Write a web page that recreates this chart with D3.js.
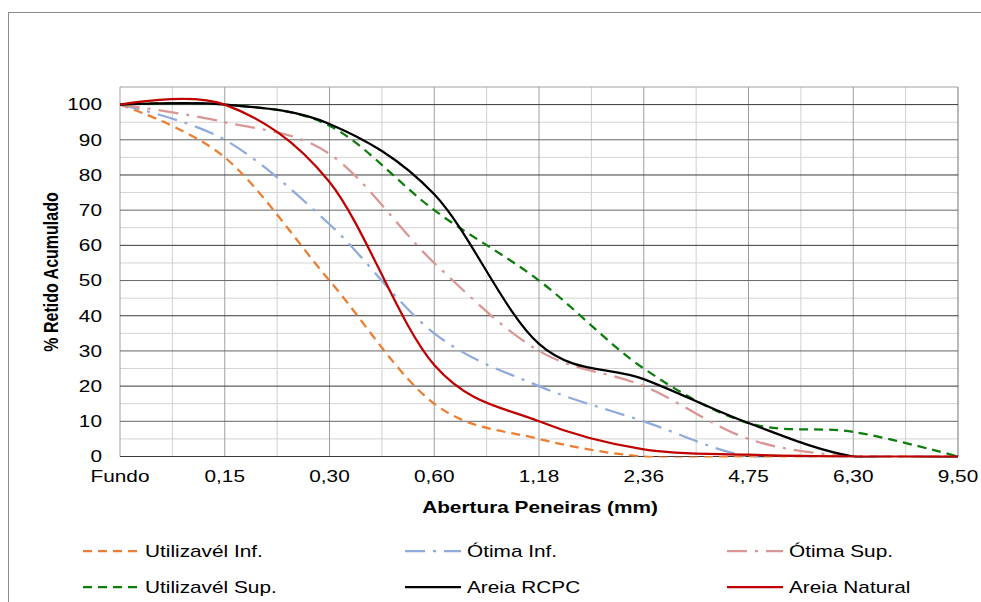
<!DOCTYPE html>
<html>
<head>
<meta charset="utf-8">
<script src="https://cdn.jsdelivr.net/npm/d3@7"></script>
<style>
    html, body { margin: 0; padding: 0; background: #fff; }
    svg { display: block; font-family: 'Liberation Sans', Arial, sans-serif; }
</style>
</head>
<body>
<svg id="chart"></svg>
<script>
// 数据
const categories = ['Fundo', '0,15', '0,30', '0,60', '1,18', '2,36', '4,75', '6,30', '9,50']
const yTicks = [0, 10, 20, 30, 40, 50, 60, 70, 80, 90, 100]

const utilizavelInf = [100, 85, 50, 15, 5, 0, 0, 0, 0]
const otimaInf = [100, 90, 66, 35, 20, 10, 0, 0, 0]
const otimaSup = [100, 95, 86, 55, 30, 20, 5, 0, 0]
const utilizavelSup = [100, 100, 94, 70, 50, 25, 9.5, 7, 0]
const areiaRCPC = [100, 100, 94.5, 74.5, 32, 22, 9.5, 0, 0]
const areiaNatural = [100, 100, 78, 26, 10, 2, 0.5, 0, 0]

const seriesNames = ['Utilizavél Inf.', 'Ótima Inf.', 'Ótima Sup.', 'Utilizavél Sup.', 'Areia RCPC', 'Areia Natural']
const seriesValues = [utilizavelInf, otimaInf, otimaSup, utilizavelSup, areiaRCPC, areiaNatural]

// 样式
const seriesColors = ['#ED7D31', '#8FAADC', '#D99694', '#0A7D0A', '#000000', '#C00000']
const seriesDash = ['9,6', '20,8,3,8', '20,8,3,8', '9,6', null, null]

const width = 981
const height = 602
const plot = { left: 120, right: 958, top: 87, bottom: 456.5 }
const SX = 1.3
const fontSize = 16

const svg = d3.select('#chart').attr('width', width).attr('height', height)

// 外框
svg.append('rect')
    .attr('x', 8.5).attr('y', 12.5)
    .attr('width', width + 20).attr('height', height + 20)
    .attr('fill', 'none')
    .attr('stroke', '#8c8c8c')

// 绘图区裁剪
svg.append('clipPath').attr('id', 'plot-clip')
    .append('rect')
    .attr('x', plot.left).attr('y', plot.top)
    .attr('width', plot.right - plot.left).attr('height', plot.bottom - plot.top + 1)

const x = d3.scalePoint().domain(categories).range([plot.left, plot.right])
const y = d3.scaleLinear().domain([0, 105]).range([plot.bottom, plot.top])

// 拉伸文字
const place = (sel, tx, ty, rotate) => sel.attr('transform',
    `translate(${tx},${ty}) scale(${SX},1)` + (rotate ? ` rotate(${rotate})` : ''))

// 网格线
const grid = svg.append('g')
const minorY = d3.range(5, 100, 10)
grid.selectAll('line.minor-y').data(minorY).enter()
    .append('line')
    .attr('x1', plot.left).attr('x2', plot.right)
    .attr('y1', v => y(v)).attr('y2', v => y(v))
    .attr('stroke', '#d4d4d4')

const midX = categories.slice(1).map((c, i) => (x(categories[i]) + x(c)) / 2)
grid.selectAll('line.minor-x').data(midX).enter()
    .append('line')
    .attr('x1', v => v).attr('x2', v => v)
    .attr('y1', plot.top).attr('y2', plot.bottom)
    .attr('stroke', '#d0d0d0')

grid.selectAll('line.major-x').data(categories).enter()
    .append('line')
    .attr('x1', v => x(v)).attr('x2', v => x(v))
    .attr('y1', plot.top).attr('y2', plot.bottom)
    .attr('stroke', (v, i) => i === categories.length - 1 ? '#777' : '#a0a0a0')

grid.append('line')
    .attr('x1', plot.left).attr('x2', plot.right)
    .attr('y1', plot.top).attr('y2', plot.top)
    .attr('stroke', '#a0a0a0')

grid.selectAll('line.major-y').data(yTicks).enter()
    .append('line')
    .attr('x1', plot.left).attr('x2', plot.right)
    .attr('y1', v => y(v)).attr('y2', v => y(v))
    .attr('stroke', (v, i) => i % 2 === 0 ? '#3a3a3a' : '#666')

// 坐标轴标签
svg.append('g').selectAll('text').data(yTicks).enter()
    .append('text')
    .text(v => v)
    .attr('font-size', fontSize)
    .attr('fill', '#000')
    .attr('text-anchor', 'end')
    .attr('dy', '0.36em')
    .each(function (v) { place(d3.select(this), 102, y(v)) })

svg.append('g').selectAll('text').data(categories).enter()
    .append('text')
    .text(v => v)
    .attr('font-size', fontSize)
    .attr('fill', '#000')
    .attr('text-anchor', 'middle')
    .each(function (v) { place(d3.select(this), x(v), 482) })

place(svg.append('text')
    .text('Abertura Peneiras (mm)')
    .attr('font-size', fontSize)
    .attr('font-weight', 'bold')
    .attr('text-anchor', 'middle'), 540, 513)

place(svg.append('text')
    .text('% Retido Acumulado')
    .attr('font-size', fontSize)
    .attr('font-weight', 'bold')
    .attr('text-anchor', 'middle'), 58, 272, -90)

// 曲线
const line = d3.line()
    .x((v, i) => x(categories[i]))
    .y(v => y(v))
    .curve(d3.curveCardinal.tension(0))

svg.append('g')
    .attr('clip-path', 'url(#plot-clip)')
    .selectAll('path').data(seriesValues).enter()
    .append('path')
    .attr('d', v => line(v))
    .attr('fill', 'none')
    .attr('stroke', (v, i) => seriesColors[i])
    .attr('stroke-width', 2.25)
    .attr('stroke-dasharray', (v, i) => seriesDash[i])

// 图例
const legendCols = [83, 405, 727]
const legendRows = [551, 587]
const legend = svg.append('g').selectAll('g').data(seriesNames).enter()
    .append('g')
    .attr('transform', (v, i) => `translate(${legendCols[i % 3]}, ${legendRows[Math.floor(i / 3)]})`)

legend.append('line')
    .attr('x1', 0).attr('x2', 56)
    .attr('y1', 0).attr('y2', 0)
    .attr('stroke', (v, i) => seriesColors[i])
    .attr('stroke-width', 2.25)
    .attr('stroke-dasharray', (v, i) => seriesDash[i])

legend.append('text')
    .text(v => v)
    .attr('font-size', fontSize)
    .attr('dy', '0.36em')
    .each(function () { place(d3.select(this), 62, 0) })
</script>
</body>
</html>
